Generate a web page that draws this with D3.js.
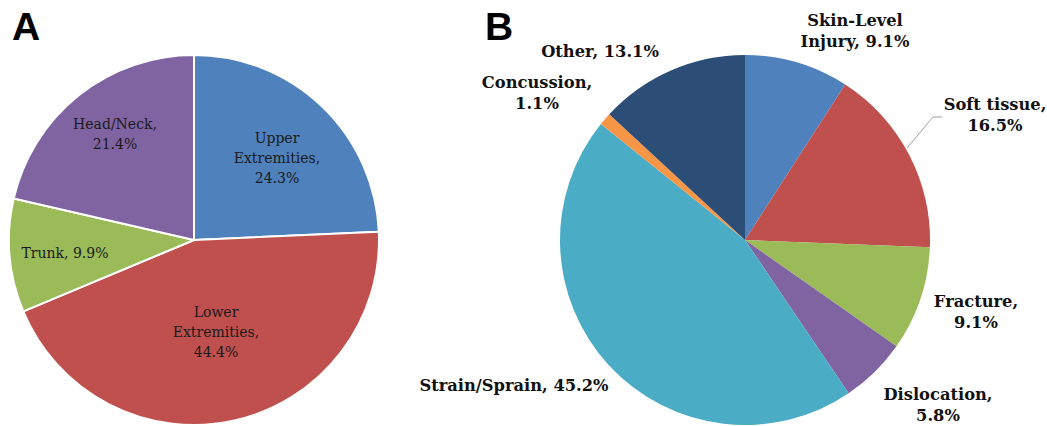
<!DOCTYPE html>
<html>
<head>
<meta charset="utf-8">
<script src="https://cdn.jsdelivr.net/npm/d3@7"></script>
<style>
  body { margin: 0; background: #fff; }
  svg { display: block; }
</style>
</head>
<body>
<div id="chart"></div>
<script>
// Panel A: body region
var regionLabels = ['Upper Extremities', 'Lower Extremities', 'Trunk', 'Head/Neck'];
var regionValues = [24.3, 44.4, 9.9, 21.4];
var regionColors = ['#4F81BD', '#C0504D', '#9BBB59', '#8064A2'];

// Panel B: injury type
var typeLabels = ['Skin-Level Injury', 'Soft tissue', 'Fracture', 'Dislocation', 'Strain/Sprain', 'Concussion', 'Other'];
var typeValues = [9.1, 16.5, 9.1, 5.8, 45.2, 1.1, 13.1];
var typeColors = ['#4F81BD', '#C0504D', '#9BBB59', '#8064A2', '#4BACC6', '#F79646', '#2C4D75'];

var width = 1047, height = 426;
var radius = 185;

var svg = d3.select('#chart').append('svg')
  .attr('width', width)
  .attr('height', height);

var pie = d3.pie().sort(null).value(function(d) { return d; });
var arc = d3.arc().innerRadius(0).outerRadius(radius);

// ---- Panel A ----
var gA = svg.append('g').attr('transform', 'translate(194,240)');
gA.selectAll('path')
  .data(pie(regionValues))
  .enter().append('path')
  .attr('d', arc)
  .attr('fill', function(d, i) { return regionColors[i]; })
  .attr('stroke', '#fff')
  .attr('stroke-width', 2);

// label lines, as split in the figure (positions relative to centre)
var labelsA = [
  { lines: ['Upper', 'Extremities,', regionValues[0] + '%'], x: 83, y: -97 },
  { lines: ['Lower', 'Extremities,', regionValues[1] + '%'], x: 22, y: 77 },
  { lines: ['Trunk, ' + regionValues[2] + '%'], x: -129, y: 18 },
  { lines: ['Head/Neck,', regionValues[3] + '%'], x: -79, y: -111 }
];
labelsA.forEach(function(l) {
  var t = gA.append('text')
    .attr('text-anchor', 'middle')
    .attr('font-family', '"DejaVu Serif", serif')
    .attr('font-size', 14)
    .attr('fill', '#1a1a1a');
  l.lines.forEach(function(s, j) {
    t.append('tspan').attr('x', l.x).attr('y', l.y + j * 20).text(s);
  });
});

// ---- Panel B ----
var gB = svg.append('g').attr('transform', 'translate(745,240)');
gB.selectAll('path')
  .data(pie(typeValues))
  .enter().append('path')
  .attr('d', arc)
  .attr('fill', function(d, i) { return typeColors[i]; });

// leader line for soft tissue
gB.append('polyline')
  .attr('points', '162,-92 188,-123 197,-123')
  .attr('fill', 'none')
  .attr('stroke', '#a0a0a0')
  .attr('stroke-width', 1);

var labelsB = [
  { lines: ['Skin-Level', 'Injury, ' + typeValues[0] + '%'], x: 110, y: -214 },
  { lines: ['Soft tissue,', typeValues[1] + '%'], x: 250, y: -130 },
  { lines: ['Fracture,', typeValues[2] + '%'], x: 231, y: 67 },
  { lines: ['Dislocation,', typeValues[3] + '%'], x: 193, y: 160 },
  { lines: ['Strain/Sprain, ' + typeValues[4] + '%'], x: -231, y: 151 },
  { lines: ['Concussion,', typeValues[5] + '%'], x: -208, y: -152 },
  { lines: ['Other, ' + typeValues[6] + '%'], x: -145, y: -183 }
];
labelsB.forEach(function(l) {
  var t = gB.append('text')
    .attr('text-anchor', 'middle')
    .attr('font-family', '"DejaVu Serif", serif')
    .attr('font-weight', 'bold')
    .attr('font-size', 16.3)
    .attr('fill', '#111');
  l.lines.forEach(function(s, j) {
    t.append('tspan').attr('x', l.x).attr('y', l.y + j * 21).text(s);
  });
});

// panel letters
svg.append('text').attr('x', 12).attr('y', 40)
  .attr('font-family', '"Liberation Sans", Arial, sans-serif')
  .attr('font-weight', 'bold').attr('font-size', 39).text('A');
svg.append('text').attr('x', 485).attr('y', 40)
  .attr('font-family', '"Liberation Sans", Arial, sans-serif')
  .attr('font-weight', 'bold').attr('font-size', 39).text('B');
</script>
</body>
</html>
